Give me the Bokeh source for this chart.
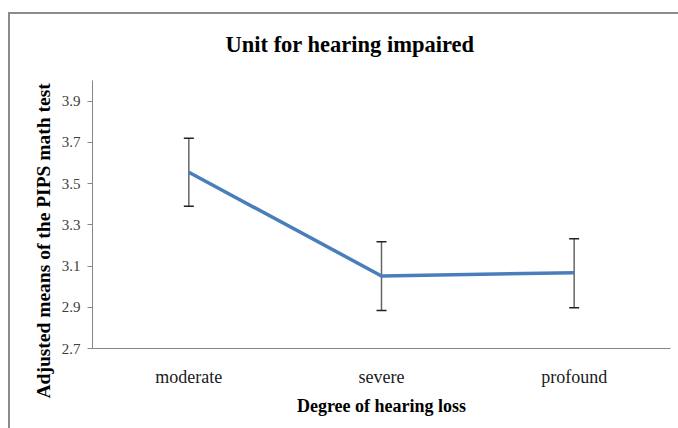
from bokeh.plotting import figure
from bokeh.models import (ColumnDataSource, FactorRange, Range1d, FixedTicker,
                          Whisker, TeeHead, Title)
from bokeh.embed import file_html
from bokeh.resources import INLINE

# ---- data ----
categories = ["moderate", "severe", "profound"]
means = [3.555, 3.052, 3.068]
upper = [3.72, 3.218, 3.232]
lower = [3.39, 2.884, 2.898]
y_ticks = [2.7, 2.9, 3.1, 3.3, 3.5, 3.7, 3.9]
title_text = "Unit for hearing impaired"
x_label = "Degree of hearing loss"
y_label = "Adjusted means of the PIPS math test"

FONT = "Liberation Serif"
GRAY = "#8c8c8c"

src = ColumnDataSource(dict(cat=categories, mean=means, upper=upper, lower=lower))

p = figure(width=678, height=428, x_range=FactorRange(*categories, range_padding=0),
           y_range=Range1d(2.7, 4.0), output_backend="svg", toolbar_location=None,
           min_border_left=92, min_border_right=8, min_border_top=80, min_border_bottom=80)
p.title = None
p.outline_line_color = None
p.xgrid.grid_line_color = None
p.ygrid.grid_line_color = None
p.background_fill_color = "white"
p.border_fill_color = None
# outer chart frame (top + left edges) drawn as CSS background behind the canvas
p.styles = {
    "background-color": "white",
    "background-image": f"linear-gradient({GRAY},{GRAY}), linear-gradient({GRAY},{GRAY})",
    "background-position": "8px 12px, 8px 12px",
    "background-size": "100% 2px, 2px 100%",
    "background-repeat": "no-repeat",
}

# axes
for ax in (p.xaxis[0], p.yaxis[0]):
    ax.axis_line_color = "#868686"
    ax.axis_line_width = 1
    ax.minor_tick_line_color = None
    ax.major_label_text_font = FONT

p.yaxis.ticker = FixedTicker(ticks=y_ticks)
p.yaxis.major_tick_line_color = "#868686"
p.yaxis.major_tick_in = 0
p.yaxis.major_tick_out = 5
p.yaxis.major_label_text_font_size = "15px"
p.yaxis.major_label_text_color = "#404040"
p.yaxis.major_label_standoff = 7

p.xaxis.major_tick_line_color = None
p.xaxis.major_label_text_font_size = "18px"
p.xaxis.major_label_text_color = "#1a1a1a"
p.xaxis.major_label_standoff = 12
p.xaxis.axis_label = x_label
p.xaxis.axis_label_text_font = FONT
p.xaxis.axis_label_text_font_style = "bold"
p.xaxis.axis_label_text_font_size = "18px"
p.xaxis.axis_label_text_color = "#000000"
p.xaxis.axis_label_standoff = 6

# title
t = Title(text=title_text, align="left", offset=133, standoff=48, text_font=FONT,
          text_font_size="22.5px", text_font_style="bold", text_color="#000000")
p.add_layout(t, "above")

# y label as left title
yl = Title(text=y_label, align="left", offset=-50, text_font=FONT,
           text_font_size="19.5px", text_font_style="bold", text_color="#000000")
p.add_layout(yl, "left")

# data line
p.line("cat", "mean", source=src, line_color="#4a7ebb", line_width=3.5)

# error bars
w = Whisker(base="cat", upper="upper", lower="lower", source=src,
            line_color="#666666", line_width=1.5,
            upper_head=TeeHead(size=10, line_color="#222222", line_width=1.5),
            lower_head=TeeHead(size=10, line_color="#222222", line_width=1.5))
p.add_layout(w)

open("out.html", "w").write(file_html(p, INLINE))
